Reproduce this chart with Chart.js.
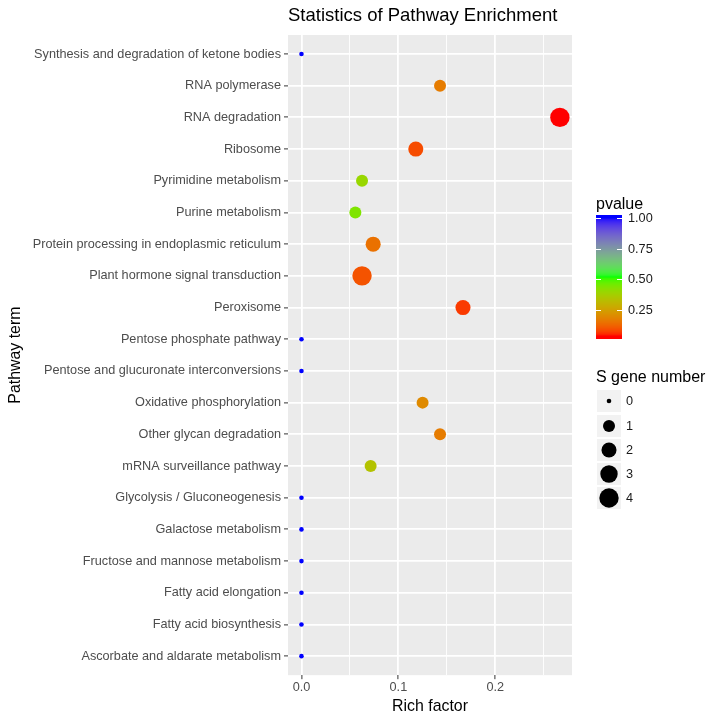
<!DOCTYPE html>
<html>
<head>
<meta charset="utf-8">
<script src="https://cdn.jsdelivr.net/npm/chart.js@4.4.0/dist/chart.umd.min.js"></script>
<style>
  html, body { margin: 0; padding: 0; background: #ffffff; }
  #wrap { width: 720px; height: 720px; }
</style>
</head>
<body>
<div id="wrap"><canvas id="enrichChart" width="720" height="720"></canvas></div>
<script>
// pathway terms, top to bottom as in the figure
const pathways = [
  'Synthesis and degradation of ketone bodies',
  'RNA polymerase',
  'RNA degradation',
  'Ribosome',
  'Pyrimidine metabolism',
  'Purine metabolism',
  'Protein processing in endoplasmic reticulum',
  'Plant hormone signal transduction',
  'Peroxisome',
  'Pentose phosphate pathway',
  'Pentose and glucuronate interconversions',
  'Oxidative phosphorylation',
  'Other glycan degradation',
  'mRNA surveillance pathway',
  'Glycolysis / Gluconeogenesis',
  'Galactose metabolism',
  'Fructose and mannose metabolism',
  'Fatty acid elongation',
  'Fatty acid biosynthesis',
  'Ascorbate and aldarate metabolism'
];
// rich factor (x), number of S genes (size), p value (colour)
const richFactor = [0, 0.143, 0.2667, 0.118, 0.0625, 0.0556, 0.074, 0.0625, 0.1667, 0, 0, 0.125, 0.143, 0.0714, 0, 0, 0, 0, 0, 0];
const geneNumber = [0, 1, 4, 2, 1, 1, 2, 4, 2, 0, 0, 1, 1, 1, 0, 0, 0, 0, 0, 0];
const pValue = [1, 0.17, 0.04, 0.09, 0.40, 0.44, 0.15, 0.10, 0.07, 1, 1, 0.20, 0.17, 0.34, 1, 1, 1, 1, 1, 1];

// axis ticks
const xMajorTicks = [0, 0.1, 0.2];
const xMinorTicks = [0.05, 0.15, 0.25];
const pvalueBreaks = [0.25, 0.5, 0.75, 1.0];
const sizeBreaks = [0, 1, 2, 3, 4];

const pMin = 0.04, pMax = 1.0;
const FONT = '"Liberation Sans", Arial, sans-serif';

// bubble radius in px from gene count (area scale like ggplot)
function radiusFor(n) {
  return 2.3 + 7.4 * Math.sqrt(n / 4);
}

// --- colour: red -> green -> blue, interpolated in Lab like ggplot ---
function srgbToLin(c) { c /= 255; return c <= 0.04045 ? c / 12.92 : Math.pow((c + 0.055) / 1.055, 2.4); }
function linToSrgb(c) { c = c <= 0.0031308 ? 12.92 * c : 1.055 * Math.pow(c, 1 / 2.4) - 0.055; return Math.round(Math.max(0, Math.min(1, c)) * 255); }
function rgbToLab(rgb) {
  const r = srgbToLin(rgb[0]), g = srgbToLin(rgb[1]), b = srgbToLin(rgb[2]);
  let x = (r * 0.4124 + g * 0.3576 + b * 0.1805) / 0.95047;
  let y = (r * 0.2126 + g * 0.7152 + b * 0.0722);
  let z = (r * 0.0193 + g * 0.1192 + b * 0.9505) / 1.08883;
  const f = t => t > 0.008856 ? Math.cbrt(t) : 7.787 * t + 16 / 116;
  x = f(x); y = f(y); z = f(z);
  return [116 * y - 16, 500 * (x - y), 200 * (y - z)];
}
function labToRgb(lab) {
  let y = (lab[0] + 16) / 116, x = lab[1] / 500 + y, z = y - lab[2] / 200;
  const fi = t => t * t * t > 0.008856 ? t * t * t : (t - 16 / 116) / 7.787;
  x = fi(x) * 0.95047; y = fi(y); z = fi(z) * 1.08883;
  const r = x * 3.2406 + y * -1.5372 + z * -0.4986;
  const g = x * -0.9689 + y * 1.8758 + z * 0.0415;
  const b = x * 0.0557 + y * -0.2040 + z * 1.0570;
  return [linToSrgb(r), linToSrgb(g), linToSrgb(b)];
}
const stops = [[255, 0, 0], [0, 255, 0], [0, 0, 255]].map(rgbToLab);
function colourFor(p) {
  let t = (p - pMin) / (pMax - pMin);
  t = Math.max(0, Math.min(1, t));
  const seg = t < 0.5 ? 0 : 1;
  const u = seg === 0 ? t / 0.5 : (t - 0.5) / 0.5;
  const a = stops[seg], b = stops[seg + 1];
  const rgb = labToRgb([a[0] + (b[0] - a[0]) * u, a[1] + (b[1] - a[1]) * u, a[2] + (b[2] - a[2]) * u]);
  return 'rgb(' + rgb.join(',') + ')';
}

// build bubble points, y = position from bottom
const points = pathways.map((name, i) => ({
  x: richFactor[i],
  y: pathways.length - i,
  r: radiusFor(geneNumber[i])
}));
const pointColours = pValue.map(colourFor);

// grey panel behind the plot
const panelBg = {
  id: 'panelBg',
  beforeDraw(chart) {
    const a = chart.chartArea, c = chart.ctx;
    c.save();
    c.fillStyle = '#EBEBEB';
    c.fillRect(a.left, a.top, a.right - a.left, a.bottom - a.top);
    c.restore();
  }
};

// colourbar + size legend on the right
const sideLegends = {
  id: 'sideLegends',
  afterDraw(chart) {
    const c = chart.ctx;
    c.save();
    c.textBaseline = 'middle';
    c.textAlign = 'left';

    // pvalue colourbar (limits sit half a bin inside the bar, like ggplot)
    const barX = 596, barW = 26, barTop = 215, barBot = 339;
    const inset = (barBot - barTop) / 40;
    const limTop = barTop + inset, limBot = barBot - inset;
    c.fillStyle = '#000000';
    c.font = '16px ' + FONT;
    c.fillText('pvalue', 596, 205);
    const valToY = v => limBot - (v - pMin) / (pMax - pMin) * (limBot - limTop);
    for (let y = barTop; y < barBot; y++) {
      const v = pMin + (limBot - y - 0.5) / (limBot - limTop) * (pMax - pMin);
      c.fillStyle = colourFor(v);
      c.fillRect(barX, y, barW, 1);
    }
    c.strokeStyle = '#FFFFFF';
    c.lineWidth = 1;
    c.font = '12.7px ' + FONT;
    pvalueBreaks.forEach(b => {
      const y = Math.round(valToY(b)) + 0.5;
      c.beginPath();
      c.moveTo(barX, y); c.lineTo(barX + 5, y);
      c.moveTo(barX + barW - 5, y); c.lineTo(barX + barW, y);
      c.stroke();
      c.fillStyle = '#1A1A1A';
      c.fillText(b.toFixed(2), 628, y);
    });

    // size legend
    c.fillStyle = '#000000';
    c.font = '16px ' + FONT;
    c.fillText('S gene number', 596, 378);
    const keyCentres = [401, 426, 450, 474, 498];
    c.font = '12.7px ' + FONT;
    sizeBreaks.forEach((n, k) => {
      const cy = keyCentres[k];
      c.fillStyle = '#F2F2F2';
      c.fillRect(597, cy - 11, 24, 22);
      c.fillStyle = '#000000';
      c.beginPath();
      c.arc(609, cy, radiusFor(n), 0, Math.PI * 2);
      c.fill();
      c.fillStyle = '#1A1A1A';
      c.fillText(String(n), 626, cy);
    });
    c.restore();
  }
};

const ctx = document.getElementById('enrichChart');

new Chart(ctx, {
  type: 'bubble',
  data: {
    datasets: [{
      label: 'Pathways',
      data: points,
      backgroundColor: pointColours,
      borderWidth: 0,
      hoverRadius: 0
    }]
  },
  options: {
    responsive: false,
    animation: false,
    events: [],
    layout: { padding: { top: 3, right: 148, bottom: 2, left: 4 } },
    plugins: {
      legend: { display: false },
      tooltip: { enabled: false },
      title: {
        display: true,
        text: 'Statistics of Pathway Enrichment',
        align: 'start',
        fullSize: false,
        color: '#000000',
        font: { family: FONT, size: 18.5, weight: 'normal' },
        padding: { top: 2, bottom: 7.8 }
      }
    },
    scales: {
      x: {
        type: 'linear',
        min: -0.0139,
        max: 0.2792,
        afterBuildTicks: axis => {
          axis.ticks = xMajorTicks.map(v => ({ value: v }))
            .concat(xMinorTicks.map(v => ({ value: v, minor: true })));
        },
        ticks: {
          autoSkip: false,
          maxRotation: 0,
          padding: 1,
          color: '#4D4D4D',
          font: { family: FONT, size: 12.7 },
          callback: function (value, index, ticks) {
            return ticks[index].minor ? '' : value.toFixed(1);
          }
        },
        grid: {
          color: '#FFFFFF',
          lineWidth: c => (c.tick && c.tick.minor) ? 0.9 : 1.8,
          tickColor: c => (c.tick && c.tick.minor) ? 'rgba(0,0,0,0)' : '#333333',
          tickLength: 4,
          tickWidth: 1
        },
        border: { display: false },
        title: {
          display: true,
          text: 'Rich factor',
          color: '#000000',
          font: { family: FONT, size: 15.9 },
          padding: { top: 1, bottom: 1.5 }
        }
      },
      y: {
        type: 'linear',
        min: 0.4,
        max: 20.6,
        afterBuildTicks: axis => {
          axis.ticks = pathways.map((p, i) => ({ value: i + 1 }));
        },
        ticks: {
          autoSkip: false,
          padding: 3,
          color: '#4D4D4D',
          font: { family: FONT, size: 12.7 },
          callback: value => pathways[pathways.length - value]
        },
        grid: {
          color: '#FFFFFF',
          lineWidth: 1.8,
          tickColor: '#333333',
          tickLength: 4,
          tickWidth: 1
        },
        border: { display: false },
        title: {
          display: true,
          text: 'Pathway term',
          color: '#000000',
          font: { family: FONT, size: 15.9 },
          padding: { top: 2, bottom: 6.4 }
        }
      }
    }
  },
  plugins: [panelBg, sideLegends]
});
</script>
</body>
</html>
